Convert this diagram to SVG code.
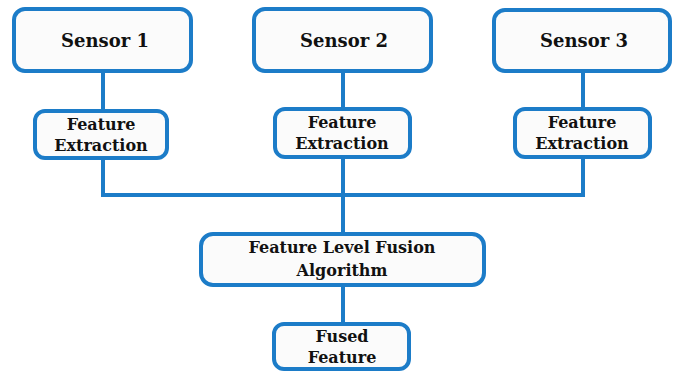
<svg xmlns="http://www.w3.org/2000/svg" width="673" height="371" viewBox="0 0 673 371">
<style>
.box{fill:#fbfbfb;stroke:#1c7cc8;stroke-width:4}
.ln{fill:none;stroke:#1c7cc8;stroke-width:4}
text{font-family:"DejaVu Serif","Liberation Serif",serif;font-weight:bold;fill:#111111;text-anchor:middle}
.big{font-size:18px}
.med{font-size:16px}
</style>
<rect width="673" height="371" fill="#ffffff"/>
<g id="connectors">
<path class="ln" d="M103 72V111M343 72V108M583 72V108"/>
<path class="ln" d="M103 158V195H583V157M343 157V233M343 285V323"/>
</g>
<g id="sensor1"><rect class="box" x="14" y="9" width="177" height="62" rx="11"/><text class="big" x="105" y="47">Sensor 1</text></g>
<g id="sensor2"><rect class="box" x="254" y="9" width="177" height="62" rx="11"/><text class="big" x="344" y="47">Sensor 2</text></g>
<g id="sensor3"><rect class="box" x="494" y="10" width="176" height="61" rx="11"/><text class="big" x="584" y="47">Sensor 3</text></g>
<g id="fe1"><rect class="box" x="35" y="111" width="132" height="47" rx="10"/><text class="med" x="101" y="130">Feature</text><text class="med" x="101" y="151">Extraction</text></g>
<g id="fe2"><rect class="box" x="275" y="109" width="135" height="48" rx="10"/><text class="med" x="342" y="128">Feature</text><text class="med" x="342" y="149">Extraction</text></g>
<g id="fe3"><rect class="box" x="515" y="109" width="135" height="48" rx="10"/><text class="med" x="582" y="128">Feature</text><text class="med" x="582" y="149">Extraction</text></g>
<g id="fusion"><rect class="box" x="201" y="234" width="283" height="51" rx="12"/><text class="med" x="342" y="253">Feature Level Fusion</text><text class="med" x="342" y="276">Algorithm</text></g>
<g id="fused"><rect class="box" x="274" y="324" width="135" height="45" rx="10"/><text class="med" x="342" y="342">Fused</text><text class="med" x="342" y="363">Feature</text></g>
</svg>
